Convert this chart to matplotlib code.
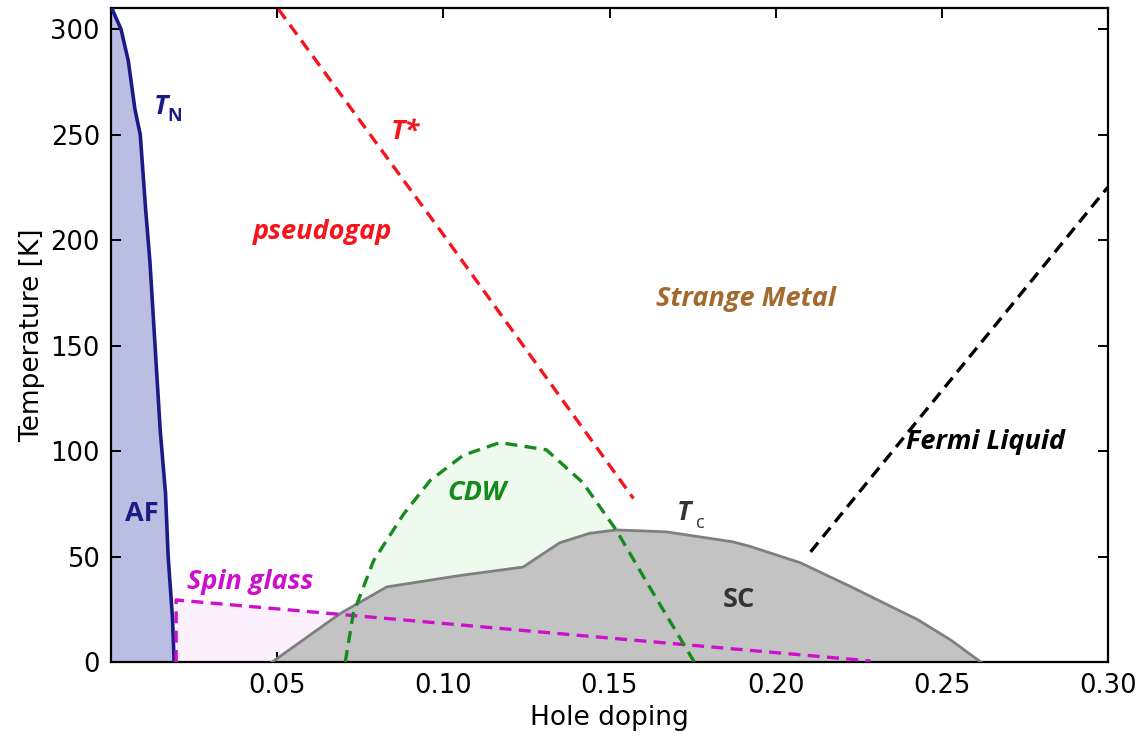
import matplotlib
matplotlib.use("Agg")
import matplotlib.pyplot as plt

# ---------------- data ----------------
tn_x = [0.0002, 0.0030, 0.0052, 0.0072, 0.0088, 0.0104, 0.0117, 0.0131, 0.0148,
        0.0164, 0.0172, 0.0185, 0.0190]
tn_T = [310, 300, 285, 262, 250, 215, 190, 154, 110, 80, 50, 21, 0]

sg_x = [0.0196, 0.0196, 0.2285]
sg_T = [0, 29.4, 0.5]

sc_x = [0.0485, 0.069, 0.083, 0.105, 0.124, 0.135, 0.144, 0.152, 0.167, 0.187,
        0.1925, 0.2075, 0.2226, 0.2428, 0.2527, 0.2617]
sc_T = [0, 23, 35.6, 41, 45, 56.5, 61, 62.6, 61.7, 57, 54.7, 47, 35.7, 20, 10.4, 0]

cdw_x = [0.0705, 0.0729, 0.079, 0.088, 0.096, 0.106, 0.117, 0.131, 0.142, 0.152,
         0.162, 0.174, 0.1755]
cdw_T = [0, 23, 48, 70, 86, 98, 104, 100.6, 85, 62.6, 35.7, 4, 0]

tstar_x = [0.0504, 0.0991, 0.1572]
tstar_T = [309.4, 204.5, 77.5]

fl_x = [0.2105, 0.2999]
fl_T = [52.2, 225]

xticks = [0.05, 0.10, 0.15, 0.20, 0.25, 0.30]
xtick_labels = ["0.05", "0.10", "0.15", "0.20", "0.25", "0.30"]
yticks = [0, 50, 100, 150, 200, 250, 300]

# ---------------- figure ----------------
fig = plt.figure(figsize=(11.45, 7.40), dpi=100)
ax = fig.add_axes([111 / 1145, 78 / 740, (1108 - 111) / 1145, (662 - 8) / 740])

navy = "#1b1b86"
red = "#f5141c"
green = "#168a1c"
magenta = "#cc10cc"
brown = "#a36a2e"

# fills
ax.fill_betweenx(tn_T, 0, tn_x, color="#b9bee2", lw=0, zorder=1)
ax.fill_between(cdw_x, 0, cdw_T, color="#eefaee", lw=0, zorder=1)
ax.fill_between(sg_x[1:], 0, sg_T[1:], color="#fbf0fb", lw=0, zorder=1)
ax.fill_between(sc_x, 0, sc_T, color="#c3c3c3", lw=0, zorder=2)
ax.plot(sc_x, sc_T, color="#7f7f7f", lw=2.0, zorder=3)

dash = (0, (3.6, 2.2))
ax.plot(tn_x, tn_T, color=navy, lw=2.6, zorder=4)
ax.plot(sg_x, sg_T, color=magenta, lw=2.4, ls=dash, zorder=4)
ax.plot(cdw_x, cdw_T, color=green, lw=2.4, ls=dash, zorder=4)
ax.plot(tstar_x, tstar_T, color=red, lw=2.4, ls=dash, zorder=4)
ax.plot(fl_x, fl_T, color="black", lw=2.4, ls=dash, zorder=4)

ax.set_xlim(0, 0.30)
ax.set_ylim(0, 310)
ax.set_xticks(xticks)
ax.set_xticklabels(xtick_labels)
ax.set_yticks(yticks)
ax.tick_params(direction="in", top=True, right=True, length=7, width=1.4,
               labelsize=18.5, pad=8)
for s in ax.spines.values():
    s.set_linewidth(1.6)
ax.set_xlabel("Hole doping", fontsize=19, labelpad=4)
ax.set_ylabel("Temperature [K]", fontsize=19, labelpad=4)

F = "Open Sans"
lab = dict(family=F, fontweight="bold", style="italic", ha="center",
           va="center", zorder=6)
sub = dict(family=F, fontweight="bold", ha="center", va="center", zorder=6)
fs = 19.5
ax.text(0.0151, 263, "T", color=navy, fontsize=fs, **lab)
ax.text(0.0192, 259, "N", color=navy, fontsize=13, **sub)
ax.text(0.0885, 251, "T*", color=red, fontsize=fs, **lab)
ax.text(0.0636, 204, "pseudogap", color=red, fontsize=fs, **lab)
ax.text(0.1910, 172, "Strange Metal", color=brown, fontsize=fs, **lab)
ax.text(0.2632, 104.5, "Fermi Liquid", color="black", fontsize=fs, **lab)
ax.text(0.1102, 80, "CDW", color=green, fontsize=fs, **lab)
ax.text(0.1724, 70.5, "T", color="#333333", fontsize=fs, **lab)
ax.text(0.1772, 66, "c", color="#333333", fontsize=13,
        family=F, ha="center", va="center", zorder=6)
ax.text(0.1888, 29.5, "SC", color="#333333", fontsize=fs, **sub)
ax.text(0.0093, 70, "AF", color=navy, fontsize=fs, **sub)
ax.text(0.0419, 38, "Spin glass", color=magenta, fontsize=fs, **lab)

fig.savefig("out.png", dpi=100)
